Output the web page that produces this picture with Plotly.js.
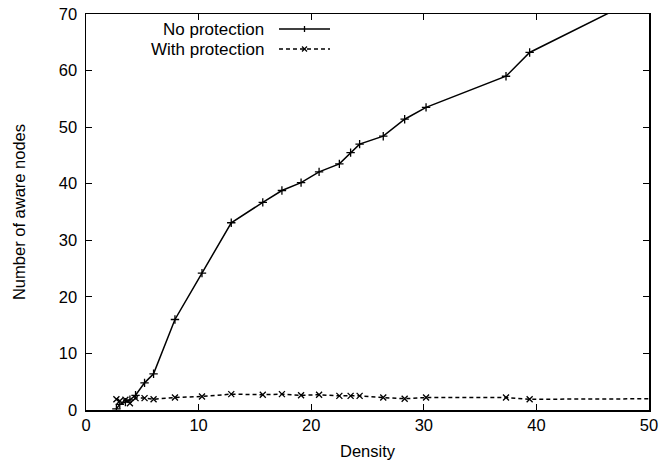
<!DOCTYPE html>
<html>
<head>
<meta charset="utf-8">
<script src="https://cdn.plot.ly/plotly-3.0.1.min.js"></script>
<style>html,body{margin:0;padding:0;background:#fff;}#chart{width:663px;height:470px;}</style>
</head>
<body>
<div id="chart"></div>
<script>
// Data
var density = [2.7, 3.0, 3.5, 3.9, 4.4, 5.2, 6.0, 7.9, 10.3, 12.9, 15.7, 17.4, 19.1, 20.7, 22.5, 23.5, 24.3, 26.4, 28.3, 30.2, 37.3, 39.4, 52.0];
var noProtection = [0.2, 1.0, 1.4, 1.8, 2.6, 4.8, 6.4, 16.0, 24.2, 33.1, 36.7, 38.8, 40.2, 42.1, 43.5, 45.5, 47.0, 48.4, 51.4, 53.5, 59.0, 63.2, 75.7];
var withProtection = [1.9, 1.6, 1.8, 1.2, 2.1, 2.1, 1.9, 2.2, 2.4, 2.8, 2.7, 2.8, 2.6, 2.7, 2.5, 2.5, 2.5, 2.2, 2.0, 2.2, 2.2, 1.9, 2.0];
var seriesNames = ["No protection", "With protection"];
var xTicks = [0, 10, 20, 30, 40, 50];
var yTicks = [0, 10, 20, 30, 40, 50, 60, 70];

var FONT = "Liberation Sans, Arial, sans-serif";
var FS = 16.5;
var LFS = 17;

var traces = [
  {
    x: density, y: noProtection, name: seriesNames[0], type: "scatter", mode: "lines+markers",
    line: {color: "#000", width: 1.5},
    marker: {symbol: "cross-thin", size: 6, color: "#000", line: {color: "#000", width: 1.3}},
    cliponaxis: true, showlegend: false
  },
  {
    x: density, y: withProtection, name: seriesNames[1], type: "scatter", mode: "lines+markers",
    line: {color: "#000", width: 1.5, dash: "4px,3px"},
    marker: {symbol: "x-thin", size: 6, color: "#000", line: {color: "#000", width: 1.3}},
    cliponaxis: true, showlegend: false
  }
];

// Legend (gnuplot style: text on the left, sample on the right)
var legY = [0.9621, 0.9116];
var legTextX = 0.3197, legX0 = 0.3428, legX1 = 0.4334, legMid = (legX0 + legX1) / 2;
var annotations = seriesNames.map(function (n, i) {
  return {xref: "paper", yref: "paper", x: legTextX, y: legY[i], text: n, showarrow: false,
    xanchor: "right", yanchor: "middle", font: {family: FONT, size: LFS, color: "#000"}};
});
var shapes = [
  {type: "line", xref: "paper", yref: "paper", x0: legX0, x1: legX1, y0: legY[0], y1: legY[0], line: {color: "#000", width: 1.5}},
  {type: "line", xref: "paper", yref: "paper", ysizemode: "pixel", yanchor: legY[0], x0: legMid, x1: legMid, y0: -3, y1: 3, line: {color: "#000", width: 1.3}},
  {type: "line", xref: "paper", yref: "paper", x0: legX0, x1: legX1, y0: legY[1], y1: legY[1], line: {color: "#000", width: 1.5, dash: "4px,3px"}},
  {type: "line", xref: "paper", yref: "paper", xsizemode: "pixel", ysizemode: "pixel", xanchor: legMid, yanchor: legY[1], x0: -2.5, x1: 2.5, y0: -2.5, y1: 2.5, line: {color: "#000", width: 1.3}},
  {type: "line", xref: "paper", yref: "paper", xsizemode: "pixel", ysizemode: "pixel", xanchor: legMid, yanchor: legY[1], x0: -2.5, x1: 2.5, y0: 2.5, y1: -2.5, line: {color: "#000", width: 1.3}}
];

var layout = {
  width: 663, height: 470,
  margin: {l: 86, r: 14, t: 14, b: 60, pad: 0},
  paper_bgcolor: "#fff", plot_bgcolor: "#fff",
  font: {family: FONT, size: FS, color: "#000"},
  showlegend: false,
  xaxis: {
    range: [0, 50], tickvals: xTicks, ticktext: xTicks.map(String),
    showgrid: false, zeroline: false, showline: true, linecolor: "#000", linewidth: 1.5,
    mirror: "ticks", ticks: "inside", ticklen: 6, tickwidth: 1, tickcolor: "#000",
    tickfont: {family: FONT, size: FS, color: "#000"},
    title: {text: "Density", font: {family: FONT, size: FS, color: "#000"}, standoff: 12}
  },
  yaxis: {
    range: [0, 70], tickvals: yTicks, ticktext: yTicks.map(String),
    showgrid: false, zeroline: false, showline: true, linecolor: "#000", linewidth: 1.5,
    mirror: "ticks", ticks: "inside", ticklen: 6, tickwidth: 1, tickcolor: "#000",
    tickfont: {family: FONT, size: FS, color: "#000"},
    ticklabelstandoff: 4,
    title: {text: "Number of aware nodes", font: {family: FONT, size: FS, color: "#000"}, standoff: 29}
  },
  annotations: annotations,
  shapes: shapes
};

Plotly.newPlot("chart", traces, layout, {displayModeBar: false, staticPlot: true});
</script>
</body>
</html>
